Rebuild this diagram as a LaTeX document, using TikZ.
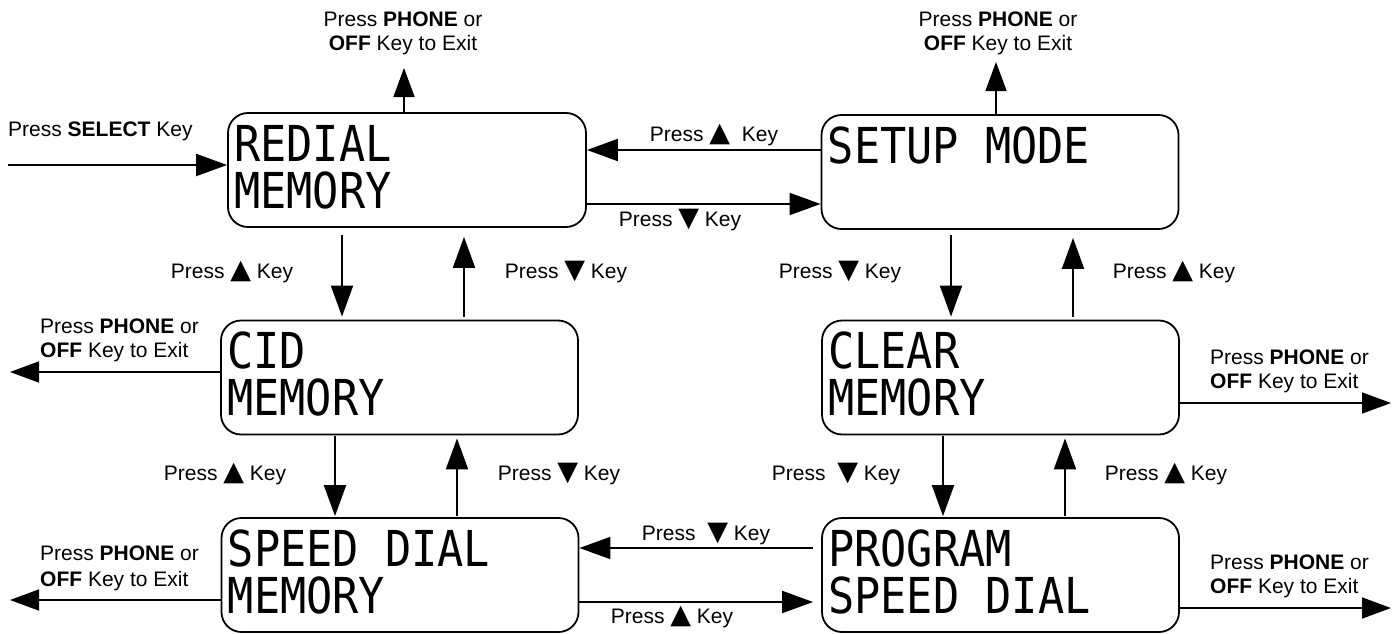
\documentclass[tikz,border=0pt]{standalone}
\usepackage{fontspec}
\setmainfont{Liberation Sans}
\newfontfamily\lcdfont[FakeStretch=0.88]{DejaVu Sans Mono}
\newfontfamily\symfont{DejaVu Sans}
\newcommand{\upkey}{{\symfont\fontsize{27}{24}\selectfont ▲}}
\newcommand{\downkey}{{\symfont\fontsize{27}{24}\selectfont ▼}}
\usetikzlibrary{arrows.meta}
\begin{document}
\begin{tikzpicture}[x=1pt,y=-1pt,
  screen/.style={draw,line width=1.8pt,rounded corners=20pt,minimum width=357pt,minimum height=114pt,inner sep=0pt},
  lcd/.style={font=\lcdfont\fontsize{49.5}{50}\selectfont,anchor=base west,inner sep=0pt},
  lbl/.style={font=\fontsize{21}{24}\selectfont,anchor=base,inner sep=0pt},
  lblw/.style={font=\fontsize{21}{24}\selectfont,anchor=base west,inner sep=0pt},
  conn/.style={line width=2pt,-{Triangle[length=31pt,width=22pt]}},
  exitconn/.style={line width=1.6pt,-{Triangle[length=29pt,width=21pt]}}]
\useasboundingbox (0,0) rectangle (1397,634);

% screens
\node[screen,minimum width=358pt] (R) at (407,170) {};
\node[screen] (S) at (1000,172) {};
\node[screen] (C) at (399.5,377.5) {};
\node[screen] (L) at (1000.5,377.5) {};
\node[screen] (D) at (400,575) {};
\node[screen] (P) at (1000.5,575) {};

% screen texts
\node[lcd] (Rt1) at ([shift={(7,49)}]R.north west) {REDIAL};
\node[lcd] (Rt2) at ([shift={(7,96)}]R.north west) {MEMORY};
\node[lcd] (St1) at ([shift={(7,49)}]S.north west) {SETUP MODE};
\node[lcd] (Ct1) at ([shift={(7,49)}]C.north west) {CID};
\node[lcd] (Ct2) at ([shift={(7,96)}]C.north west) {MEMORY};
\node[lcd] (Lt1) at ([shift={(7,49)}]L.north west) {CLEAR};
\node[lcd] (Lt2) at ([shift={(7,96)}]L.north west) {MEMORY};
\node[lcd] (Dt1) at ([shift={(7,49)}]D.north west) {SPEED DIAL};
\node[lcd] (Dt2) at ([shift={(7,96)}]D.north west) {MEMORY};
\node[lcd] (Pt1) at ([shift={(7,49)}]P.north west) {PROGRAM};
\node[lcd] (Pt2) at ([shift={(7,96)}]P.north west) {SPEED DIAL};

% helper coordinates
\coordinate (inS) at (8,165);
\coordinate (Rx) at (404,68);
\coordinate (Sx) at (996,62);
\coordinate (hA) at (0,150);
\coordinate (hB) at (0,204);
\coordinate (hC) at (0,548);
\coordinate (hD) at (0,602);
\coordinate (vA) at (342,0);
\coordinate (vB) at (464,0);
\coordinate (vC) at (335,0);
\coordinate (vD) at (457,0);
\coordinate (vE) at (951,0);
\coordinate (vF) at (1073,0);
\coordinate (vG) at (943,0);
\coordinate (vH) at (1065,0);
\coordinate (Cx) at (10,372);
\coordinate (Dx) at (10,600);
\coordinate (Lx) at (1391,403);
\coordinate (Px) at (1391,608);

% connectors
\draw[conn] (inS) -- (inS -| R.west);
\draw[exitconn] (R.north -| Rx) -- (Rx);
\draw[exitconn] (S.north -| Sx) -- (Sx);
\draw[conn] (S.west |- hA) -- (R.east |- hA);
\draw[conn] (R.east |- hB) -- (S.west |- hB);
\draw[conn,shorten <=7pt,shorten >=3pt] (R.south -| vA) -- (C.north -| vA);
\draw[conn,shorten <=3pt,shorten >=9pt] (C.north -| vB) -- (R.south -| vB);
\draw[conn,shorten <=1pt,shorten >=1pt] (C.south -| vC) -- (D.north -| vC);
\draw[conn,shorten <=1pt,shorten >=3pt] (D.north -| vD) -- (C.south -| vD);
\draw[conn,shorten <=5pt,shorten >=3pt] (S.south -| vE) -- (L.north -| vE);
\draw[conn,shorten <=3pt,shorten >=8pt] (L.north -| vF) -- (S.south -| vF);
\draw[conn,shorten <=1pt,shorten >=1pt] (L.south -| vG) -- (P.north -| vG);
\draw[conn,shorten <=1pt,shorten >=3pt] (P.north -| vH) -- (L.south -| vH);
\draw[conn,shorten <=8pt] (P.west |- hC) -- (D.east |- hC);
\draw[conn,shorten >=8pt] (D.east |- hD) -- (P.west |- hD);
\draw[exitconn] (C.west |- Cx) -- (Cx);
\draw[exitconn] (D.west |- Dx) -- (Dx);
\draw[exitconn] (L.east |- Lx) -- (Lx);
\draw[exitconn] (P.east |- Px) -- (Px);

% labels
\node[lblw] (sel) at (8,136) {Press \textbf{SELECT} Key};
\node[lbl] (rx1) at (403,27) {Press \textbf{PHONE} or};
\node[lbl] (rx2) at (403,51) {\textbf{OFF} Key to Exit};
\node[lbl] (sx1) at (998,27) {Press \textbf{PHONE} or};
\node[lbl] (sx2) at (998,51) {\textbf{OFF} Key to Exit};
\node[lbl] (la) at (714,141) {Press \upkey\ \ Key};
\node[lbl] (lb) at (680,226) {Press \downkey\ Key};
\node[lbl] (lc) at (232,278) {Press \upkey\ Key};
\node[lbl] (ld) at (566,278) {Press \downkey\ Key};
\node[lbl] (le) at (225,480) {Press \upkey\ Key};
\node[lbl] (lf) at (559,480) {Press \downkey\ Key};
\node[lbl] (lg) at (840,278) {Press \downkey\ Key};
\node[lbl] (lh) at (1174,278) {Press \upkey\ Key};
\node[lbl] (li) at (836,480) {Press\ \ \downkey\ Key};
\node[lbl] (lj) at (1166,480) {Press \upkey\ Key};
\node[lbl] (lk) at (706,540) {Press\ \ \downkey\ Key};
\node[lbl] (ll) at (672,623) {Press \upkey\ Key};
\node[lblw] (cx1) at (40,333) {Press \textbf{PHONE} or};
\node[lblw] (cx2) at (40,357) {\textbf{OFF} Key to Exit};
\node[lblw] (dx1) at (40,560) {Press \textbf{PHONE} or};
\node[lblw] (dx2) at (40,586) {\textbf{OFF} Key to Exit};
\node[lblw] (lx1) at (1210,364) {Press \textbf{PHONE} or};
\node[lblw] (lx2) at (1210,388) {\textbf{OFF} Key to Exit};
\node[lblw] (px1) at (1210,569) {Press \textbf{PHONE} or};
\node[lblw] (px2) at (1210,593) {\textbf{OFF} Key to Exit};
\end{tikzpicture}
\end{document}
